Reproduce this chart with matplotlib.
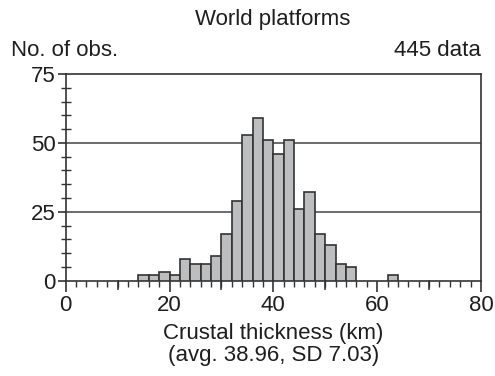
import matplotlib
matplotlib.use("Agg")
import matplotlib.pyplot as plt
from matplotlib.ticker import MultipleLocator

plt.rcParams['font.family'] = ['Liberation Sans', 'DejaVu Sans']

bin_left = [14, 16, 18, 20, 22, 24, 26, 28, 30, 32, 34, 36, 38, 40, 42, 44, 46, 48, 50, 52, 54, 62]
counts = [2, 2, 3, 2, 8, 6, 6, 9, 17, 29, 53, 59, 51, 46, 51, 26, 32, 17, 13, 6, 5, 2]
bin_width = 2
x_ticks = [0, 20, 40, 60, 80]
y_ticks = [0, 25, 50, 75]

title = "World platforms"
ylabel = "No. of obs."
n_label = "445 data"
xlabel = "Crustal thickness (km)\n(avg. 38.96, SD 7.03)"

txt = '#1e1e1e'
edge = '#333333'
fs = 16

fig = plt.figure(figsize=(4.95, 3.76), dpi=100)
ax = fig.add_axes([0.1327, 0.2535, 0.839, 0.5497])

ax.bar(bin_left, counts, width=bin_width, align='edge', color='#bdbec0',
       edgecolor=edge, linewidth=1.2, zorder=3)
for g in [25, 50]:
    ax.axhline(g, color='#444444', linewidth=1.1, zorder=1)

ax.set_xlim(0, 80)
ax.set_ylim(0, 75)
ax.set_xticks(x_ticks)
ax.set_yticks(y_ticks)
ax.xaxis.set_minor_locator(MultipleLocator(2))
ax.yaxis.set_minor_locator(MultipleLocator(5))

for s in ax.spines.values():
    s.set_color(edge)
    s.set_linewidth(1.2)

ax.tick_params(axis='x', which='major', direction='out', length=8, width=1.2,
               color=edge, labelsize=fs, labelcolor=txt, pad=2)
ax.tick_params(axis='x', which='minor', direction='out', length=4, width=1.0, color=edge)
ax.tick_params(axis='y', which='major', direction='out', length=6, width=1.2,
               color=edge, labelsize=fs, labelcolor=txt, pad=1)
ax.tick_params(axis='y', which='minor', direction='inout', length=7, width=1.0, color=edge)

# medium ticks at 10, 30, 50, 70
for xv in [10, 30, 50, 70]:
    ax.plot([xv, xv], [0, -3.0], color=edge, linewidth=1.2, clip_on=False, zorder=4)

fig.text(0.55, 0.949, title, ha='center', va='center', fontsize=fs, color=txt)
fig.text(0.022, 0.865, ylabel, ha='left', va='center', fontsize=fs, color=txt)
fig.text(0.9717, 0.865, n_label, ha='right', va='center', fontsize=fs, color=txt)
ax.set_xlabel(xlabel, fontsize=fs, color=txt, labelpad=5, linespacing=1.1)

fig.savefig("out.png", dpi=100)
